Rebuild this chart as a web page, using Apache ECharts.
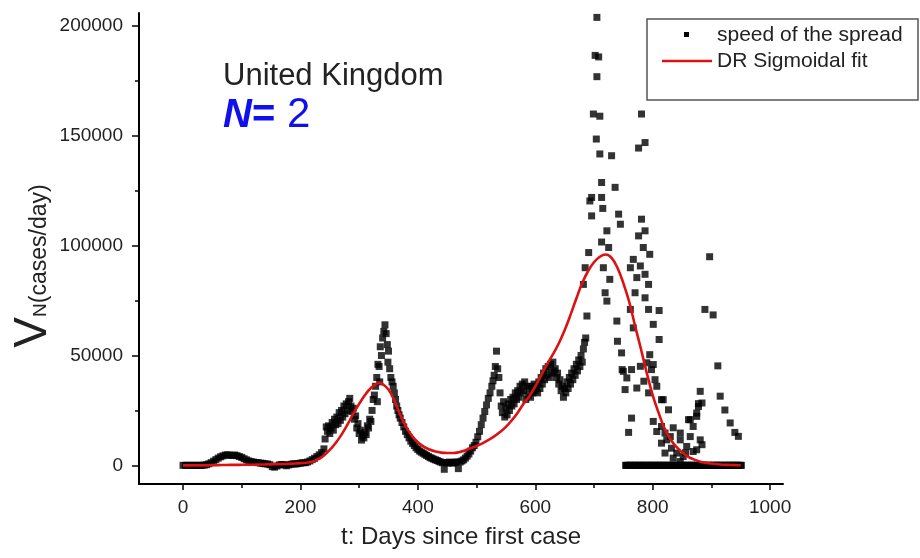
<!DOCTYPE html>
<html>
<head>
<meta charset="utf-8">
<title>United Kingdom – speed of the spread</title>
<script src="https://cdn.jsdelivr.net/npm/echarts@6/dist/echarts.min.js"></script>
<style>
  html, body { margin: 0; padding: 0; background: #fff; }
  #chart { width: 920px; height: 558px; }
</style>
</head>
<body>
<div id="chart"></div>
<script>
// Daily speed of the spread (cases/day) by day since the first case.
const spreadEarly = [[0,0],[4,0],[8,0],[12,0],[16,0],[20,0],[24,0],[28,0],[32,0],[36,100],[40,300],[44,700],[48,1200],[52,1900],[56,2600],[60,3300],[64,3900],[68,4300],[72,4700],[76,4800],[80,4600],[84,4500],[88,4700],[92,4400],[96,4000],[100,3600],[104,3000],[108,2500],[112,2000],[116,1700],[120,1500],[124,1300],[128,1200],[132,1000],[136,900],[140,700],[144,600],[148,300],[152,-600],[156,-800],[160,-300],[164,200],[168,400],[172,300],[176,-200],[180,200],[184,500],[188,700],[192,600],[196,800],[200,1000],[204,1200],[208,1200],[212,1500],[216,2000],[220,2600],[224,3200],[228,4000],[232,4800],[236,5800],[240,7500]];

const spreadWave2 = [[242,12000],[244,17500],[246,15500],[248,18000],[250,14500],[252,17000],[254,19500],[256,16000],[258,21000],[260,18500],[262,22000],[264,19000],[266,24000],[268,20500],[270,25000],[272,22000],[274,27000],[276,23500],[278,28000],[280,25000],[282,29000],[284,30500],[286,27000],[288,24500],[290,26000],[292,21000],[294,22500],[296,17000],[298,19000],[300,14500],[302,16000],[304,11500],[306,13500],[308,12500],[310,15000],[312,14000],[314,18000],[316,17000],[318,21000],[320,20000],[322,25000],[324,30000],[326,32000],[328,36000],[330,40000],[331,29000],[332,46000],[334,45000],[335,38000],[336,54000],[338,50000],[340,58000],[342,61000],[344,64000],[346,60000],[348,55000],[349,47000],[350,52000],[352,44000],[354,40000],[356,38000]];

const spreadTrough = [[358,36000],[360,33000],[362,30000],[364,27000],[366,25000],[368,23000],[370,21500],[373,19500],[376,17500],[379,15500],[382,14000],[385,12500],[388,11000],[391,10000],[394,9000],[397,8000],[400,7200],[403,6500],[406,6000],[409,5500],[412,5000],[415,4500],[418,4000],[421,3500],[424,3200],[427,2800],[430,2500],[433,2200],[436,1800],[439,1500],[442,1200],[445,-1800],[448,1300],[451,1000],[454,1500],[457,1200],[460,1000],[463,1300],[466,1600],[469,-1500],[472,1500],[475,2000],[478,2500],[481,3300],[484,4200],[487,5200],[490,6500],[493,8000],[496,9000],[499,10500],[502,13000],[505,15500],[508,18500],[511,21500],[514,24500],[517,27500],[520,30500],[523,33000],[526,36000],[528,38500],[530,41000],[532,45000],[534,52000]];

const spreadWave3 = [[536,44000],[538,40000],[540,33000],[542,27000],[544,24000],[546,29000],[548,22000],[550,26000],[552,23000],[554,28000],[556,25000],[558,30000],[560,27000],[562,31000],[564,28000],[566,33000],[568,30000],[570,34000],[572,31000],[574,36000],[576,33000],[578,37000],[580,34000],[582,38000],[584,30000],[586,36000],[588,32000],[590,35000],[592,31000],[594,36000],[596,33000],[598,37000],[600,34000],[602,36000],[604,33000],[606,38000],[608,35000],[610,40000],[612,37000],[614,42000],[616,39000],[618,44000],[620,41000],[622,45000],[624,40000],[626,46000],[628,42000],[630,47000],[632,43000],[634,44000],[636,40000],[638,42000],[640,37000],[642,39000],[644,34000],[646,36000],[648,31000],[650,35000],[652,33000],[654,38000],[656,35000],[658,40000],[660,37000],[662,42000],[664,39000],[666,44000],[668,41000],[670,46000],[672,43000],[674,48000],[676,45000],[678,50000],[680,47000],[682,53000],[684,56000],[686,58000],[688,68000]];

const spreadPeak = [[682,82400],[685,90000],[691,96900],[693,120400],[696,122000],[696,113600],[699,160000],[702,186700],[704,148600],[705,204000],[705,177000],[708,186000],[710,159000],[710,141800],[713,128800],[713,122000],[713,101700],[715,117000],[716,90000],[719,78600],[722,106800],[722,74800],[725,99200],[727,84700],[730,141000],[736,126600],[739,65700],[740,56500],[742,114400],[745,109800],[747,51200],[748,43600],[750,42800],[753,34500],[756,39800],[759,15000],[762,90000],[762,71000],[764,43600],[764,21500],[767,93800],[767,62600],[770,78600],[773,85500],[773,35200],[776,144500],[776,104500],[779,90800],[779,45100],[781,160000],[781,112100],[784,99200],[785,38300],[787,147000],[787,106800],[787,87000],[787,76300],[790,46700],[793,82400],[793,71000],[793,33000],[795,96100],[795,50400],[798,43600],[801,64200],[801,45900],[801,20000],[804,39000],[807,36000],[807,15400],[811,70500],[811,57300],[815,29900],[815,17700],[815,10100],[818,29900],[821,14700],[821,5600],[824,11600],[827,25300],[830,13100],[832,7800],[835,17100],[835,3300],[841,5600],[847,14700],[847,11600],[847,1700],[852,4000],[856,5700],[858,8600],[861,20800],[864,13100],[864,20800],[869,17700],[869,6300],[875,23800],[875,22300],[875,7100],[878,28100],[878,26800],[881,33700],[881,11600],[884,28400],[884,9400],[889,71000],[897,95000],[903,68500],[911,45300],[915,31500],[923,25200],[932,19300],[940,15000],[946,13200]];

// Days with no cases reported (value 0)
const zeroReportDays = [754,755,757,761,762,764,768,769,771,775,776,778,782,783,785,789,790,792,796,797,799,803,804,806,810,811,813,817,818,820,824,825,827,831,832,834,838,839,841,845,846,848,852,853,855,859,860,862,866,867,869,873,874,876,880,881,883,887,888,890,894,895,897,901,902,904,908,909,911,915,916,918,922,923,925,929,930,932,936,937,939,943,944,946,950,951];

// DR sigmoidal fit with N = 2 (two waves)
const fitCurve = [[0,0],[10,0],[20,0],[30,0],[40,0],[50,100],[60,100],[70,150],[80,200],[90,200],[100,250],[110,300],[120,300],[130,350],[140,400],[150,450],[160,500],[170,600],[180,700],[190,850],[200,1000],[210,1200],[220,1600],[230,2800],[240,4500],[250,7000],[260,10200],[270,14000],[280,18500],[290,23500],[300,28000],[310,32000],[320,35200],[330,37200],[335,37500],[340,37000],[350,34500],[360,29500],[370,23000],[380,17500],[390,13500],[400,10500],[410,8500],[420,7200],[430,6300],[440,5800],[450,5600],[460,5600],[470,6000],[480,6800],[490,7800],[500,8800],[510,10000],[520,11500],[530,13200],[540,15200],[550,17500],[560,20500],[570,24000],[580,28000],[590,31500],[600,36000],[610,41000],[620,46000],[630,50500],[640,55500],[650,61500],[660,68500],[670,76000],[680,83000],[690,88500],[700,92500],[710,95000],[720,96000],[730,94500],[740,90000],[750,83000],[760,74500],[770,63500],[780,53000],[790,42000],[800,32000],[810,24000],[820,17000],[830,12000],[840,8500],[850,6000],[860,4000],[870,2700],[880,1800],[890,1200],[900,800],[910,500],[920,300],[930,200],[940,100],[950,50]];

const xMajorTicks = [0, 200, 400, 600, 800, 1000];
const xMinorTicks = [100, 300, 500, 700, 900];
const yMajorTicks = [0, 50000, 100000, 150000, 200000];
const yMinorTicks = [25000, 75000, 125000, 175000];

const FONT = '"Liberation Sans", Arial, sans-serif';
const X_MIN = -75, X_MAX = 1022, Y_MIN = -8500, Y_MAX = 206000;

const chart = echarts.init(document.getElementById('chart'), null, { renderer: 'canvas' });

const spreadPoints = spreadEarly.concat(spreadWave2, spreadTrough, spreadWave3, spreadPeak,
  zeroReportDays.map(d => [d, 0]));

const plainNumber = v => String(v);

function baseX(extra) {
  return Object.assign({
    type: 'value', gridIndex: 0, min: X_MIN, max: X_MAX, position: 'bottom',
    splitLine: { show: false }
  }, extra);
}
function baseY(extra) {
  return Object.assign({
    type: 'value', gridIndex: 0, min: Y_MIN, max: Y_MAX, position: 'left',
    splitLine: { show: false }
  }, extra);
}

chart.setOption({
  animation: false,
  backgroundColor: '#ffffff',
  grid: { left: 139, right: 137, top: 13, bottom: 74, containLabel: false },
  xAxis: [
    baseX({
      axisLine: { show: true, onZero: false, lineStyle: { color: '#000', width: 2 } },
      axisTick: { show: true, customValues: xMajorTicks, length: 6, lineStyle: { color: '#000', width: 1.5 } },
      axisLabel: { show: true, customValues: xMajorTicks, formatter: plainNumber, margin: 14, fontSize: 19, fontFamily: FONT, color: '#222' }
    }),
    baseX({
      axisLine: { show: false, onZero: false },
      axisTick: { show: true, customValues: xMinorTicks, length: 4, lineStyle: { color: '#000', width: 1.5 } },
      axisLabel: { show: false }
    })
  ],
  yAxis: [
    baseY({
      axisLine: { show: true, onZero: false, lineStyle: { color: '#000', width: 2 } },
      axisTick: { show: true, customValues: yMajorTicks, length: 7, lineStyle: { color: '#000', width: 1.5 } },
      axisLabel: { show: true, customValues: yMajorTicks, formatter: plainNumber, margin: 16, fontSize: 19, fontFamily: FONT, color: '#222' }
    }),
    baseY({
      axisLine: { show: false, onZero: false },
      axisTick: { show: true, customValues: yMinorTicks, length: 4, lineStyle: { color: '#000', width: 1.5 } },
      axisLabel: { show: false }
    })
  ],
  series: [
    {
      name: 'speed of the spread',
      type: 'scatter',
      xAxisIndex: 0, yAxisIndex: 0,
      symbol: 'rect',
      symbolSize: 7,
      itemStyle: { color: '#000' },
      data: spreadPoints,
      z: 2
    },
    {
      name: 'DR Sigmoidal fit',
      type: 'line',
      xAxisIndex: 0, yAxisIndex: 0,
      smooth: 0.4,
      showSymbol: false,
      lineStyle: { color: '#dd1111', width: 2.6 },
      data: fitCurve,
      z: 3
    }
  ],
  graphic: [
    // legend box
    { type: 'rect', z: 10, shape: { x: 647, y: 19, width: 271, height: 81 },
      style: { fill: '#fff', stroke: '#555', lineWidth: 1.5 } },
    { type: 'rect', z: 11, shape: { x: 684, y: 32, width: 5, height: 5 }, style: { fill: '#000' } },
    { type: 'text', z: 11, x: 717, y: 35,
      style: { text: 'speed of the spread', font: '21px ' + FONT, fill: '#222', verticalAlign: 'middle' } },
    { type: 'line', z: 11, shape: { x1: 662, y1: 61, x2: 712, y2: 61 },
      style: { stroke: '#dd1111', lineWidth: 2.6 } },
    { type: 'text', z: 11, x: 717, y: 61,
      style: { text: 'DR Sigmoidal fit', font: '21px ' + FONT, fill: '#222', verticalAlign: 'middle' } },
    // country and number of waves
    { type: 'text', z: 11, x: 223, y: 76,
      style: { text: 'United Kingdom', font: '31px ' + FONT, fill: '#222', verticalAlign: 'middle' } },
    { type: 'text', z: 11, x: 223, y: 115,
      style: {
        text: '{n|N}{e|=}{d| 2}',
        verticalAlign: 'middle',
        rich: {
          n: { fontSize: 40, fontWeight: 'bold', fontStyle: 'italic', fontFamily: FONT, fill: '#1010ee', verticalAlign: 'bottom' },
          e: { fontSize: 40, fontWeight: 'bold', fontFamily: FONT, fill: '#1010ee', verticalAlign: 'bottom' },
          d: { fontSize: 42, fontFamily: FONT, fill: '#1010ee', verticalAlign: 'bottom' }
        }
      } },
    // axis titles
    { type: 'text', z: 11, x: 461, y: 537,
      style: { text: 't: Days since first case', font: '24px ' + FONT, fill: '#222', align: 'center', verticalAlign: 'middle' } },
    { type: 'text', z: 11, x: 33, y: 266, rotation: Math.PI / 2,
      style: {
        text: '{v|V}{n|N}{u|(cases/day)}',
        align: 'center', verticalAlign: 'middle',
        rich: {
          v: { fontSize: 46, fontFamily: FONT, fill: '#222', verticalAlign: 'bottom' },
          n: { fontSize: 19, fontFamily: FONT, fill: '#222', verticalAlign: 'bottom', padding: [0, 0, 6, 0] },
          u: { fontSize: 23, fontFamily: FONT, fill: '#222', verticalAlign: 'bottom', padding: [0, 0, 5, 0] }
        }
      } }
  ]
});
</script>
</body>
</html>
